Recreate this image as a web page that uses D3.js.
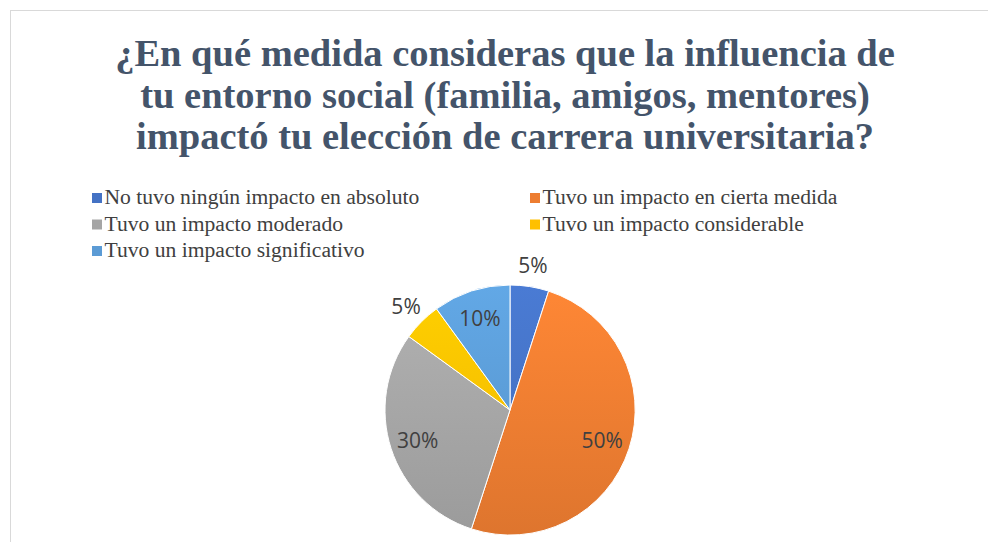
<!DOCTYPE html>
<html>
<head>
<meta charset="utf-8">
<script src="https://cdn.jsdelivr.net/npm/d3@7"></script>
</head>
<body style="margin:0;background:#fff">
<div id="chart"></div>
<script>
// data
let titleLines = ["¿En qué medida consideras que la influencia de",
                  "tu entorno social (familia, amigos, mentores)",
                  "impactó tu elección de carrera universitaria?"];
let categories = ["No tuvo ningún impacto en absoluto",
                  "Tuvo un impacto en cierta medida",
                  "Tuvo un impacto moderado",
                  "Tuvo un impacto considerable",
                  "Tuvo un impacto significativo"];
let values = [5, 50, 30, 5, 10];
let colors = ["#4472C4", "#ED7D31", "#A5A5A5", "#FFC000", "#5B9BD5"];

let width = 988, height = 542;
let cx = 510, cy = 410, radius = 125;
let serif = '"Liberation Serif", "Times New Roman", serif';

let svg = d3.select("#chart").append("svg")
  .attr("width", width)
  .attr("height", height)
  .style("display", "block");

// frame of the chart area
svg.append("rect")
   .attr("x", 10.5).attr("y", 10.5)
   .attr("width", width + 20).attr("height", height + 20)
   .attr("fill", "#fff")
   .attr("stroke", "#D9D9D9");

// TITLE, one text per line
svg.selectAll("text.title").data(titleLines)
   .enter().append("text")
   .attr("class", "title")
   .attr("x", 505)
   .attr("y", (d, i) => 66 + i * 41.5)
   .attr("text-anchor", "middle")
   .style("font-family", serif)
   .style("font-weight", "bold")
   .style("font-size", "38.5px")
   .attr("fill", "#44546A")
   .text(d => d);

// LEGEND
let items = svg.selectAll("g.legend").data(categories)
  .enter().append("g")
  .attr("class", "legend")
  .attr("transform", (d, i) => "translate(" + (i % 2 ? 530 : 92) + "," + (198 + Math.floor(i / 2) * 26.5) + ")");

items.append("rect")
     .attr("x", 0).attr("y", -5)
     .attr("width", 10).attr("height", 10)
     .attr("fill", (d, i) => colors[i]);

items.append("text")
     .attr("x", 12.5)
     .attr("y", 6)
     .style("font-family", serif)
     .style("font-size", "21.6px")
     .attr("fill", "#404040")
     .text(d => d);

// GRADIENTS for each slice (local pie coords)
let defs = svg.append("defs");
let grads = defs.selectAll("linearGradient").data(colors)
  .enter().append("linearGradient")
  .attr("id", (d, i) => "g" + i)
  .attr("gradientUnits", "userSpaceOnUse")
  .attr("x1", 0).attr("y1", -radius)
  .attr("x2", 0).attr("y2", radius);
grads.append("stop").attr("offset", "0%").attr("stop-color", d => d3.rgb(d).brighter(0.22));
grads.append("stop").attr("offset", "100%").attr("stop-color", d => d3.rgb(d).darker(0.18));

// PIE
let pie = d3.pie().sort(null).value(d => d);
let arc = d3.arc().innerRadius(0).outerRadius(radius);
let inLabel = d3.arc().innerRadius(97).outerRadius(97);
let outLabel = d3.arc().innerRadius(147).outerRadius(147);

let arcs = pie(values);

let slices = svg.append("g").attr("transform", "translate(" + cx + "," + cy + ")");

slices.selectAll("path").data(arcs)
  .enter().append("path")
  .attr("d", arc)
  .attr("fill", (d, i) => "url(#g" + i + ")")
  .attr("stroke", "#fff")
  .attr("stroke-width", 1);

slices.selectAll("text").data(arcs)
  .enter().append("text")
  .attr("transform", d => "translate(" + (d.data <= 5 ? outLabel : inLabel).centroid(d) + ")")
  .attr("text-anchor", "middle")
  .attr("dy", "0.38em")
  .style("font-family", '"Open Sans", sans-serif')
  .style("font-size", "21px")
  .attr("fill", "#404040")
  .text(d => d.data + "%");
</script>
</body>
</html>
